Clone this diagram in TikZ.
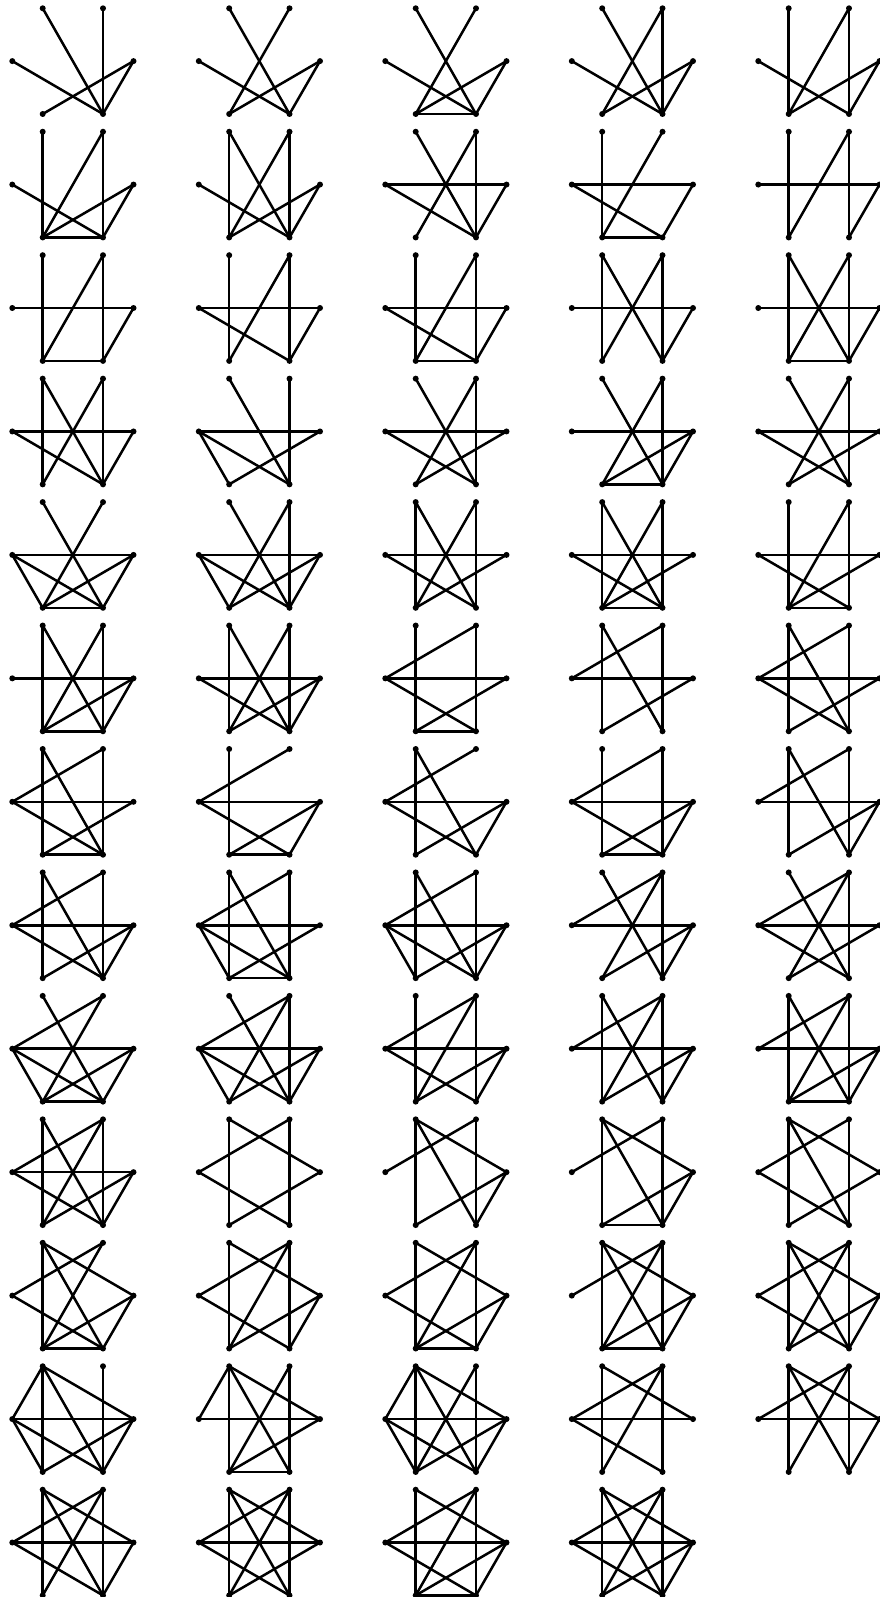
\documentclass[tikz,border=0pt]{standalone}
\pgfdeclarelayer{bg}
\pgfsetlayers{bg,main}
\tikzset{
  vtx/.style={circle,fill=black,draw=none,inner sep=0pt,minimum size=6pt},
  edge/.style={line width=2.5pt,black}
}
% #1 name, #2 column, #3 row, #4 edge list
\newcommand\gph[4]{%
  \begin{scope}[shift={({#2*186.5},{#3*123.45})}]
    \node[vtx] (#1a) at (42.7,8.3) {};
    \node[vtx] (#1b) at (103,8.3) {};
    \node[vtx] (#1l) at (12.3,61.1) {};
    \node[vtx] (#1r) at (133.5,61.1) {};
    \node[vtx] (#1c) at (42.7,114) {};
    \node[vtx] (#1d) at (103,114) {};
    \begin{pgfonlayer}{bg}
      \foreach \u/\v in {#4} \draw[edge] (#1\u.center) -- (#1\v.center);
    \end{pgfonlayer}
  \end{scope}}
\begin{document}
\begin{tikzpicture}[x=1pt,y=-1pt]
\useasboundingbox (0,0) rectangle (880,1597);
% row 0
\gph{ga}{0}{0}{a/d,b/d,l/d,r/c,r/d}
\gph{gb}{1}{0}{a/d,b/c,l/d,r/c,r/d}
\gph{gc}{2}{0}{a/d,b/c,l/d,r/c,r/d,c/d}
\gph{gd}{3}{0}{a/d,b/c,b/d,l/d,r/c,r/d}
\gph{ge}{4}{0}{a/c,b/c,b/d,l/d,r/c,r/d}
% row 1
\gph{gf}{0}{1}{a/c,b/c,b/d,l/d,r/c,r/d,c/d}
\gph{gg}{1}{1}{a/c,a/d,b/c,b/d,l/d,r/c,r/d}
\gph{gh}{2}{1}{a/d,b/c,b/d,l/r,l/d,r/d}
\gph{gi}{3}{1}{a/c,b/c,l/r,l/d,r/d,c/d}
\gph{gj}{4}{1}{a/c,b/c,b/d,l/r,r/d}
% row 2
\gph{gk}{0}{2}{a/c,b/c,b/d,l/r,r/d,c/d}
\gph{gl}{1}{2}{a/c,b/c,b/d,l/r,l/d,r/d}
\gph{gm}{2}{2}{a/c,b/c,b/d,l/r,l/d,r/d,c/d}
\gph{gn}{3}{2}{a/c,a/d,b/c,b/d,l/r,r/d}
\gph{go}{4}{2}{a/c,a/d,b/c,b/d,l/r,r/d,c/d}
% row 3
\gph{gp}{0}{3}{a/c,a/d,b/c,b/d,l/r,l/d,r/d}
\gph{gq}{1}{3}{a/d,b/d,l/r,l/c,l/d,r/c}
\gph{gr}{2}{3}{a/d,b/c,b/d,l/r,l/d,r/c}
\gph{gs}{3}{3}{a/d,b/c,b/d,l/r,r/c,r/d,c/d}
\gph{gt}{4}{3}{a/d,b/c,b/d,l/r,l/d,r/c}
% row 4
\gph{gu}{0}{4}{a/d,b/c,l/r,l/c,l/d,r/c,r/d,c/d}
\gph{gv}{1}{4}{a/d,b/c,b/d,l/r,l/c,l/d,r/c,r/d}
\gph{gw}{2}{4}{a/c,a/d,b/c,b/d,l/r,l/d,r/c}
\gph{gx}{3}{4}{a/c,a/d,b/c,b/d,l/r,l/d,r/c,c/d}
\gph{gy}{4}{4}{a/c,b/c,b/d,l/r,l/d,r/c,c/d}
% row 5
\gph{gz}{0}{5}{a/c,a/d,b/c,b/d,l/r,r/c,r/d,c/d}
\gph{hA}{1}{5}{a/c,a/d,b/c,b/d,l/r,l/d,r/c,r/d}
\gph{hB}{2}{5}{a/c,b/d,l/b,l/r,l/d,r/c,c/d}
\gph{hC}{3}{5}{a/c,a/d,b/d,l/b,l/r,r/c}
\gph{hD}{4}{5}{a/c,a/d,b/d,l/b,l/r,l/d,r/c}
% row 6
\gph{hE}{0}{6}{a/c,a/d,b/d,l/b,l/r,l/d,r/c,c/d}
\gph{hF}{1}{6}{a/c,l/b,l/r,l/d,r/c,r/d,c/d}
\gph{hG}{2}{6}{a/c,a/d,l/b,l/r,l/d,r/c,r/d}
\gph{hH}{3}{6}{a/c,b/d,l/b,l/r,l/d,r/c,r/d,c/d}
\gph{hI}{4}{6}{a/c,a/d,b/d,l/b,l/r,r/c,r/d}
% row 7
\gph{hJ}{0}{7}{a/c,a/d,b/d,l/b,l/r,l/d,r/c,r/d}
\gph{hK}{1}{7}{a/c,a/d,b/d,l/b,l/r,l/c,l/d,r/c,c/d}
\gph{hL}{2}{7}{a/c,a/d,b/d,l/b,l/r,l/c,l/d,r/c,r/d}
\gph{hM}{3}{7}{a/d,b/c,b/d,l/b,l/r,r/c,r/d}
\gph{hN}{4}{7}{a/d,b/c,b/d,l/b,l/r,l/d,r/c}
% row 8
\gph{hO}{0}{8}{a/d,b/c,l/b,l/r,l/c,l/d,r/c,r/d,c/d}
\gph{hP}{1}{8}{a/d,b/c,b/d,l/b,l/r,l/c,l/d,r/c,r/d}
\gph{hQ}{2}{8}{a/c,b/c,b/d,l/b,l/r,l/d,r/c,r/d}
\gph{hR}{3}{8}{a/c,a/d,b/c,b/d,l/b,l/r,r/c,r/d}
\gph{hS}{4}{8}{a/c,a/d,b/c,b/d,l/b,l/r,r/c,r/d,c/d}
% row 9
\gph{hT}{0}{9}{a/c,a/d,b/c,b/d,l/b,l/r,l/d,r/c,r/d}
\gph{hU}{1}{9}{a/c,a/r,b/d,l/b,l/d,r/c}
\gph{hV}{2}{9}{a/c,a/d,a/r,b/d,l/b,r/c,r/d}
\gph{hW}{3}{9}{a/c,a/d,a/r,b/d,l/b,r/c,r/d,c/d}
\gph{hX}{4}{9}{a/c,a/d,a/r,b/d,l/b,l/d,r/c}
% row 10
\gph{hY}{0}{10}{a/c,a/d,a/r,b/c,l/b,l/d,r/c,r/d,c/d}
\gph{hZ}{1}{10}{a/c,a/r,b/c,b/d,l/b,l/d,r/c,r/d}
\gph{kA}{2}{10}{a/c,a/r,b/c,b/d,l/b,l/d,r/c,r/d,c/d}
\gph{kB}{3}{10}{a/c,a/d,a/r,b/c,b/d,l/b,r/c,r/d,c/d}
\gph{kC}{4}{10}{a/c,a/d,a/r,b/c,b/d,l/b,l/d,r/c,r/d}
% row 11
\gph{kD}{0}{11}{a/l,a/c,a/d,a/r,b/d,l/r,l/c,l/d,r/c,r/d}
\gph{kE}{1}{11}{a/l,a/c,a/d,a/r,b/c,b/d,l/r,r/c,c/d}
\gph{kF}{2}{11}{a/l,a/c,a/d,a/r,b/c,b/d,l/r,l/c,l/d,r/c,r/d}
\gph{kG}{3}{11}{a/c,a/r,b/c,b/d,l/b,l/r,l/d}
\gph{kH}{4}{11}{a/c,a/d,a/r,b/c,b/d,l/b,l/r,r/d}
% row 12
\gph{kI}{0}{12}{a/c,a/d,a/r,b/c,b/d,l/b,l/r,l/d,r/d}
\gph{kJ}{1}{12}{a/c,a/d,a/r,b/c,b/d,l/b,l/r,l/d,r/c}
\gph{kK}{2}{12}{a/c,a/r,b/c,b/d,l/b,l/r,l/d,r/c,r/d,c/d}
\gph{kL}{3}{12}{a/c,a/d,a/r,b/c,b/d,l/b,l/r,l/d,r/c,r/d}
\end{tikzpicture}
\end{document}
